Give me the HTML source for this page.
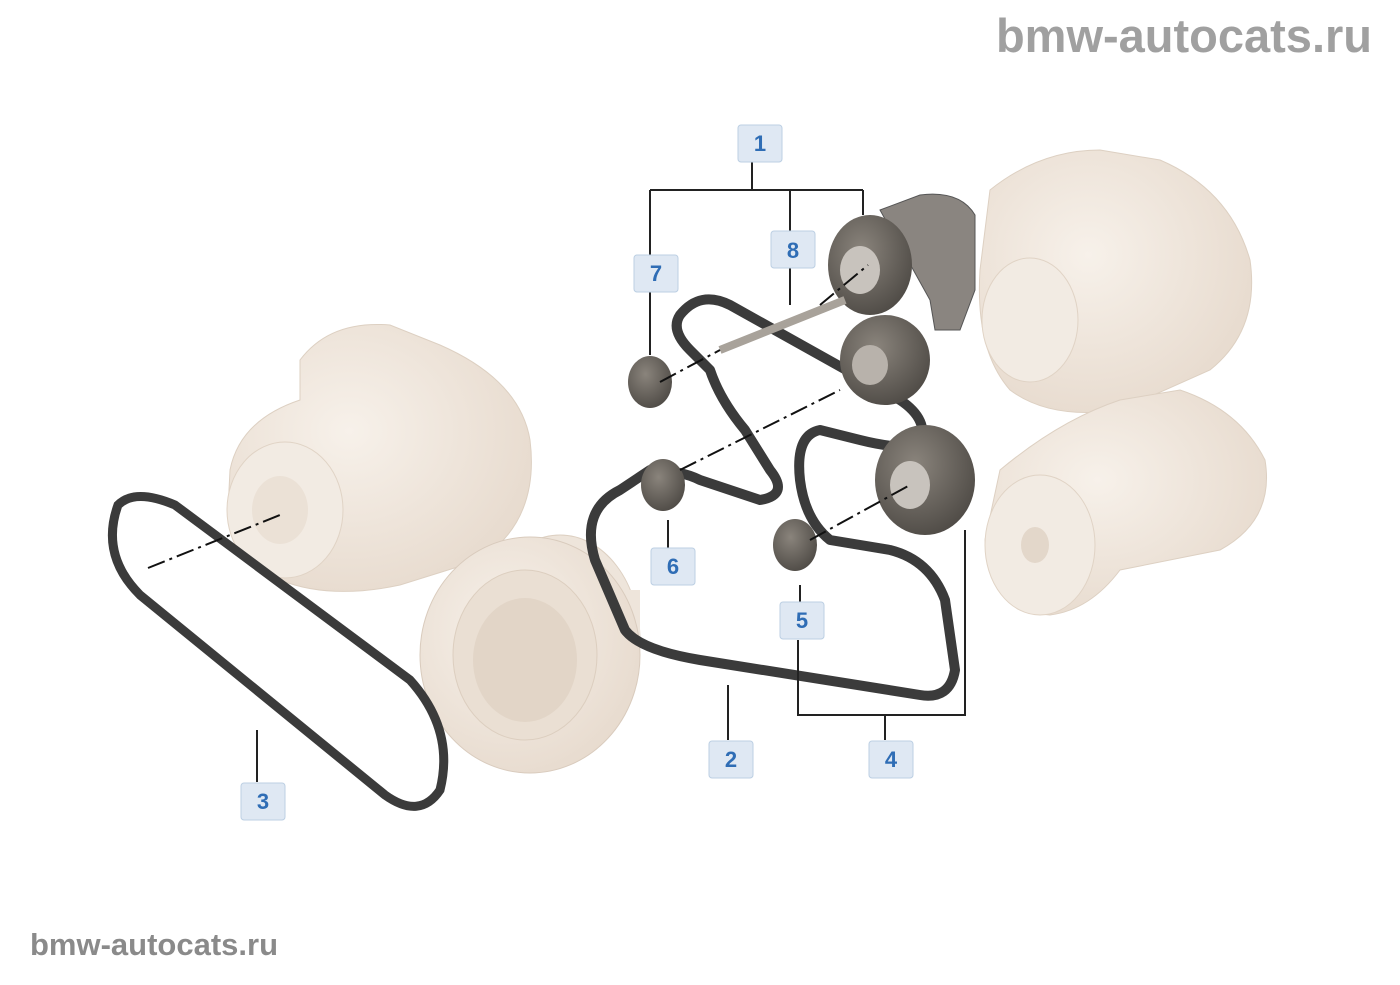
<!DOCTYPE html>
<html><head><meta charset="utf-8"><style>
body{margin:0;background:#fff;width:1400px;height:980px;overflow:hidden;font-family:"Liberation Sans",sans-serif}
</style></head><body>
<svg width="1400" height="980" viewBox="0 0 1400 980" xmlns="http://www.w3.org/2000/svg">
<defs>
<radialGradient id="bg" cx="40%" cy="40%" r="70%"><stop offset="0" stop-color="#f7f1ea"/><stop offset="1" stop-color="#e6d9cc"/></radialGradient>
<radialGradient id="dg" cx="40%" cy="35%" r="70%"><stop offset="0" stop-color="#8a847c"/><stop offset="1" stop-color="#4e4a45"/></radialGradient>
</defs>
<text x="1372" y="52" text-anchor="end" font-size="47" font-weight="bold" fill="#a0a0a0">bmw-autocats.ru</text>
<text x="30" y="955" font-size="31" font-weight="bold" fill="#8a8a8a">bmw-autocats.ru</text>

<path d="M230,470 Q240,420 300,400 L300,360 Q330,320 390,325 L440,345 Q520,380 530,440 Q540,520 480,560 L400,585 Q330,600 280,580 Q230,560 228,510 Z" fill="url(#bg)" stroke="#ddd0c2"/>
<ellipse cx="285" cy="510" rx="58" ry="68" fill="#f2ebe3" stroke="#e0d3c5"/>
<ellipse cx="280" cy="510" rx="28" ry="34" fill="#ebe1d6"/>
<path d="M990,190 Q1040,150 1100,150 L1160,160 Q1230,190 1250,260 Q1260,330 1210,370 L1120,410 Q1050,420 1010,390 Q975,350 980,270 Z" fill="url(#bg)" stroke="#ddd0c2"/>
<ellipse cx="1030" cy="320" rx="48" ry="62" fill="#f2ebe3" stroke="#e0d3c5"/>
<path d="M1000,470 Q1060,420 1120,400 L1180,390 Q1240,410 1265,460 Q1275,520 1220,550 L1120,570 Q1090,610 1050,615 Q990,610 985,540 Z" fill="url(#bg)" stroke="#ddd0c2"/>
<ellipse cx="1040" cy="545" rx="55" ry="70" fill="#f2ebe3" stroke="#e0d3c5"/>
<ellipse cx="1035" cy="545" rx="14" ry="18" fill="#e3d7ca"/>
<ellipse cx="560" cy="640" rx="80" ry="105" fill="#eee5db" stroke="#ddd0c2"/>
<rect x="530" y="590" width="110" height="60" fill="#eee5db"/>
<ellipse cx="530" cy="655" rx="110" ry="118" fill="url(#bg)" stroke="#d9cbbd"/>
<ellipse cx="525" cy="655" rx="72" ry="85" fill="#eadfd3" stroke="#dccebf"/>
<ellipse cx="525" cy="660" rx="52" ry="62" fill="#e2d5c7"/>

<path d="M118,505 Q135,488 175,505 L410,680 Q455,730 440,790 Q420,820 385,795 L140,595 Q100,555 118,505 Z" fill="none" stroke="#3b3b3b" stroke-width="9"/>
<path d="M680,315 Q700,290 730,305 L900,400 Q930,420 920,445 Q900,450 860,440 L820,430 Q795,435 800,480 Q805,520 830,540 L890,550 Q930,560 945,600 L955,670 Q950,700 920,695 L700,660 Q640,650 625,630 L595,560 Q580,510 620,490 L650,470 Q680,470 700,480 L760,500 Q790,495 770,470 L745,430 Q720,400 710,370 L690,350 Q670,330 680,315 Z" fill="none" stroke="#3b3b3b" stroke-width="10" stroke-linejoin="round"/>

<path d="M880,210 L920,195 Q960,190 975,215 L975,290 L960,330 L935,330 L930,300 Z" fill="#8a8580" stroke="#555"/>
<ellipse cx="870" cy="265" rx="42" ry="50" fill="url(#dg)"/>
<ellipse cx="860" cy="270" rx="20" ry="24" fill="#c8c3bd"/>
<ellipse cx="885" cy="360" rx="45" ry="45" fill="url(#dg)"/>
<ellipse cx="870" cy="365" rx="18" ry="20" fill="#b8b2ab"/>
<ellipse cx="925" cy="480" rx="50" ry="55" fill="url(#dg)"/>
<ellipse cx="910" cy="485" rx="20" ry="24" fill="#c8c3bd"/>
<ellipse cx="650" cy="382" rx="22" ry="26" fill="url(#dg)"/>
<ellipse cx="663" cy="485" rx="22" ry="26" fill="url(#dg)"/>
<ellipse cx="795" cy="545" rx="22" ry="26" fill="url(#dg)"/>
<line x1="720" y1="350" x2="845" y2="300" stroke="#a8a29a" stroke-width="8"/>
<g stroke="#111" stroke-width="2" stroke-dasharray="18,5,3,5">
<line x1="148" y1="568" x2="280" y2="515"/><line x1="660" y1="382" x2="720" y2="350"/>
<line x1="680" y1="470" x2="840" y2="390"/><line x1="810" y1="540" x2="910" y2="485"/>
<line x1="820" y1="305" x2="868" y2="265"/>
</g>

<g stroke="#222" stroke-width="2" fill="none">
<path d="M752,162 V190 M650,190 H863 M650,190 V255 M650,292 V355 M790,190 V232 M790,268 V305 M863,190 V215"/>
<path d="M798,640 V715 H965 V530 M885,715 V740"/>
<path d="M728,685 V740 M257,730 V782 M668,520 V548 M800,585 V602"/>
</g>
<g font-size="22" font-weight="bold" fill="#2f6db5" text-anchor="middle">
<g><rect x="738" y="125" width="44" height="37" rx="3" fill="#dfe8f3" stroke="#bccfe3"/><text x="760" y="151">1</text></g>
<g><rect x="771" y="231" width="44" height="37" rx="3" fill="#dfe8f3" stroke="#bccfe3"/><text x="793" y="258">8</text></g>
<g><rect x="634" y="255" width="44" height="37" rx="3" fill="#dfe8f3" stroke="#bccfe3"/><text x="656" y="281">7</text></g>
<g><rect x="651" y="548" width="44" height="37" rx="3" fill="#dfe8f3" stroke="#bccfe3"/><text x="673" y="574">6</text></g>
<g><rect x="780" y="602" width="44" height="37" rx="3" fill="#dfe8f3" stroke="#bccfe3"/><text x="802" y="628">5</text></g>
<g><rect x="709" y="741" width="44" height="37" rx="3" fill="#dfe8f3" stroke="#bccfe3"/><text x="731" y="767">2</text></g>
<g><rect x="869" y="741" width="44" height="37" rx="3" fill="#dfe8f3" stroke="#bccfe3"/><text x="891" y="767">4</text></g>
<g><rect x="241" y="783" width="44" height="37" rx="3" fill="#dfe8f3" stroke="#bccfe3"/><text x="263" y="809">3</text></g>
</g>
</svg>
</body></html>
